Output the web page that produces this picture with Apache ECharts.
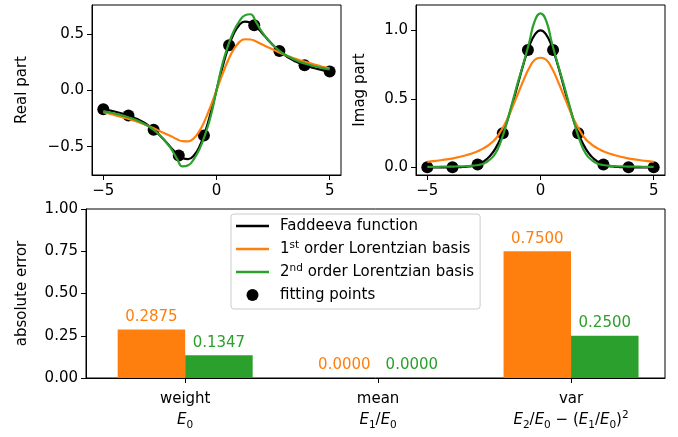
<!DOCTYPE html>
<html>
<head>
<meta charset="utf-8">
<script src="https://cdn.jsdelivr.net/npm/echarts@6/dist/echarts.min.js"></script>
<style>
  html, body { margin: 0; padding: 0; background: #ffffff; }
  #chart { width: 678px; height: 437px; }
</style>
</head>
<body>
<div id="chart"></div>
<script>
// ---- sample positions along the real axis (curves), step 0.25 ----
const xGrid = [-5, -4.75, -4.5, -4.25, -4, -3.75, -3.5, -3.25, -3, -2.75, -2.5, -2.25, -2, -1.75, -1.5, -1.25, -1, -0.75, -0.5, -0.25, 0,
               0.25, 0.5, 0.75, 1, 1.25, 1.5, 1.75, 2, 2.25, 2.5, 2.75, 3, 3.25, 3.5, 3.75, 4, 4.25, 4.5, 4.75, 5];

// Faddeeva function (exact)
const exactRe = [-0.167, -0.177, -0.188, -0.201, -0.216, -0.234, -0.255, -0.281, -0.314, -0.353, -0.400, -0.454, -0.511, -0.563, -0.600, -0.610, -0.578, -0.498, -0.367, -0.195, 0.000,
                 0.195, 0.367, 0.498, 0.578, 0.610, 0.600, 0.563, 0.511, 0.454, 0.400, 0.353, 0.314, 0.281, 0.255, 0.234, 0.216, 0.201, 0.188, 0.177, 0.167];
const exactIm = [0.000, 0.000, 0.000, 0.000, 0.000, 0.001, 0.002, 0.005, 0.011, 0.023, 0.044, 0.080, 0.135, 0.216, 0.325, 0.458, 0.607, 0.755, 0.882, 0.969, 1.000,
                 0.969, 0.882, 0.755, 0.607, 0.458, 0.325, 0.216, 0.135, 0.080, 0.044, 0.023, 0.011, 0.005, 0.002, 0.001, 0.000, 0.000, 0.000, 0.000, 0.000];

// 1st order Lorentzian basis fit
const lor1Re = [-0.193, -0.206, -0.220, -0.234, -0.248, -0.263, -0.279, -0.297, -0.316, -0.338, -0.362, -0.385, -0.408, -0.433, -0.451, -0.453, -0.425, -0.360, -0.260, -0.135, 0.000,
                0.135, 0.260, 0.360, 0.425, 0.453, 0.451, 0.433, 0.408, 0.385, 0.362, 0.338, 0.316, 0.297, 0.279, 0.263, 0.248, 0.234, 0.220, 0.206, 0.193];
const lor1Im = [0.040, 0.045, 0.050, 0.056, 0.062, 0.070, 0.079, 0.090, 0.103, 0.119, 0.140, 0.168, 0.205, 0.265, 0.340, 0.435, 0.535, 0.635, 0.725, 0.785, 0.800,
                0.785, 0.725, 0.635, 0.535, 0.435, 0.340, 0.265, 0.205, 0.168, 0.140, 0.119, 0.103, 0.090, 0.079, 0.070, 0.062, 0.056, 0.050, 0.045, 0.040];

// 2nd order Lorentzian basis fit
const lor2Re = [-0.185, -0.195, -0.205, -0.218, -0.232, -0.248, -0.268, -0.292, -0.320, -0.355, -0.400, -0.455, -0.520, -0.605, -0.675, -0.665, -0.610, -0.520, -0.390, -0.225, 0.000,
                0.225, 0.390, 0.520, 0.610, 0.665, 0.675, 0.605, 0.520, 0.455, 0.400, 0.355, 0.320, 0.292, 0.268, 0.248, 0.232, 0.218, 0.205, 0.195, 0.185];
const lor2Im = [0.003, 0.004, 0.004, 0.005, 0.005, 0.006, 0.007, 0.009, 0.012, 0.017, 0.028, 0.055, 0.100, 0.190, 0.320, 0.470, 0.620, 0.760, 0.910, 1.070, 1.124,
                1.070, 0.910, 0.760, 0.620, 0.470, 0.320, 0.190, 0.100, 0.055, 0.028, 0.017, 0.012, 0.009, 0.007, 0.006, 0.005, 0.005, 0.004, 0.004, 0.003];

// fitting points
const fitX  = [-5, -3.889, -2.778, -1.667, -0.556, 0.556, 1.667, 2.778, 3.889, 5];
const fitRe = [-0.167, -0.223, -0.349, -0.578, -0.400, 0.400, 0.578, 0.349, 0.223, 0.167];
const fitIm = [0.000, 0.001, 0.021, 0.249, 0.857, 0.857, 0.249, 0.021, 0.001, 0.000];

// moment errors
const momentNames = ['weight', 'mean', 'var'];
const momentFormulas = [
  '{it|E}{sub|0}',
  '{it|E}{sub|1}{n|/}{it|E}{sub|0}',
  '{it|E}{sub|2}{n|/}{it|E}{sub|0}{n| \u2212 (}{it|E}{sub|1}{n|/}{it|E}{sub|0}{n|)}{sup|2}'
];
const err1st = [0.2875, 0.0000, 0.7500];
const err2nd = [0.1347, 0.0000, 0.2500];

// tick positions
const curveXTicks = [-5, 0, 5];
const reTicks = [-0.5, 0, 0.5];
const imTicks = [0, 0.5, 1.0];

const FONT = 'DejaVu Sans';
const BLACK = '#000000', ORANGE = '#ff7f0e', GREEN = '#2ca02c';
const NAME_EXACT = 'Faddeeva function';
const NAME_L1 = '1st order Lorentzian basis';
const NAME_L2 = '2nd order Lorentzian basis';
const NAME_FIT = 'fitting points';

const pairs = (xs, ys) => xs.map((x, i) => [x, ys[i]]);
const signed = d => v => (v < 0 ? '\u2212' : '') + Math.abs(v).toFixed(d);

const labelBase = { fontSize: 15, fontFamily: FONT, color: '#000' };
const tickStyle = { length: 5, inside: false, lineStyle: { color: '#000', width: 1 } };
const frameLine = { show: true, onZero: false, lineStyle: { color: '#000', width: 1 } };

function curveX(gi) {
  return {
    gridIndex: gi, type: 'value', min: -5.5, max: 5.5,
    axisLine: frameLine, splitLine: { show: false },
    axisTick: Object.assign({ show: true, customValues: curveXTicks }, tickStyle),
    axisLabel: Object.assign({ customValues: curveXTicks, formatter: signed(0), margin: 9 }, labelBase)
  };
}
function curveY(gi, min, max, ticks, name, gap) {
  return {
    gridIndex: gi, type: 'value', min: min, max: max,
    name: name, nameLocation: 'middle', nameGap: gap,
    nameTextStyle: { fontSize: 15, fontFamily: FONT, color: '#000' },
    axisLine: frameLine, splitLine: { show: false },
    axisTick: Object.assign({ show: true, customValues: ticks }, tickStyle),
    axisLabel: Object.assign({ customValues: ticks, formatter: signed(1), margin: 8 }, labelBase)
  };
}
function lineSeries(name, xi, xs, ys, color, z) {
  return {
    type: 'line', name: name, xAxisIndex: xi, yAxisIndex: xi,
    data: pairs(xs, ys), showSymbol: false, symbol: 'none',
    smooth: 0.5, z: z,
    lineStyle: { color: color, width: 2.2 }, itemStyle: { color: color }
  };
}
function fitSeries(xi, ys) {
  return {
    type: 'scatter', name: NAME_FIT, xAxisIndex: xi, yAxisIndex: xi,
    data: pairs(fitX, ys), symbolSize: 12, z: 3,
    itemStyle: { color: BLACK, opacity: 1 }
  };
}
function barSeries(name, values, color) {
  return {
    type: 'bar', name: name, xAxisIndex: 2, yAxisIndex: 2,
    data: values.map((v, i) => [i, v]),
    barWidth: 67.5, barGap: '0%',
    itemStyle: { color: color },
    label: {
      show: true, position: 'top', distance: 5,
      color: color, fontSize: 15, fontFamily: FONT,
      formatter: p => p.value[1].toFixed(4)
    }
  };
}

const mathRich = {
  n:   { fontSize: 15, fontFamily: FONT, color: '#000', lineHeight: 21 },
  it:  { fontSize: 15, fontFamily: FONT, fontStyle: 'italic', color: '#000', lineHeight: 21 },
  sub: { fontSize: 10.5, fontFamily: FONT, color: '#000', lineHeight: 11, verticalAlign: 'bottom' },
  sup: { fontSize: 10.5, fontFamily: FONT, color: '#000', lineHeight: 10, verticalAlign: 'top' }
};

const chart = echarts.init(document.getElementById('chart'), null, { renderer: 'canvas' });
chart.setOption({
  animation: false,
  backgroundColor: '#ffffff',
  textStyle: { fontFamily: FONT },
  grid: [
    { left: 92, top: 5, width: 249, height: 170, show: true, borderColor: '#000', borderWidth: 1, backgroundColor: '#fff' },
    { left: 416, top: 5, width: 249, height: 170, show: true, borderColor: '#000', borderWidth: 1, backgroundColor: '#fff' },
    { left: 86, top: 209, width: 579, height: 169, show: true, borderColor: '#000', borderWidth: 1, backgroundColor: '#fff' }
  ],
  xAxis: [
    curveX(0),
    curveX(1),
    {
      gridIndex: 2, type: 'value', min: -0.514, max: 2.487,
      axisLine: frameLine, splitLine: { show: false },
      axisTick: Object.assign({ show: true, customValues: [0, 1, 2] }, tickStyle),
      axisLabel: {
        customValues: [0, 1, 2], margin: 11, lineHeight: 21,
        formatter: v => '{n|' + momentNames[Math.round(v)] + '}\n' + momentFormulas[Math.round(v)],
        rich: mathRich
      }
    }
  ],
  yAxis: [
    curveY(0, -0.751, 0.757, reTicks, 'Real part', 62),
    curveY(1, -0.056, 1.185, imTicks, 'Imag part', 48),
    {
      gridIndex: 2, type: 'value', min: 0, max: 1, interval: 0.25,
      name: 'absolute error', nameLocation: 'middle', nameGap: 56,
      nameTextStyle: { fontSize: 15, fontFamily: FONT, color: '#000' },
      axisLine: frameLine, splitLine: { show: false },
      axisTick: Object.assign({ show: true }, tickStyle),
      axisLabel: Object.assign({ formatter: v => v.toFixed(2), margin: 8 }, labelBase)
    }
  ],
  legend: {
    orient: 'vertical', left: 231, top: 214,
    itemWidth: 33, itemHeight: 12, itemGap: 5,
    padding: [3, 6, 5, 5],
    borderColor: '#cccccc', borderWidth: 1, borderRadius: 3,
    backgroundColor: 'rgba(255,255,255,0.8)',
    data: [
      { name: NAME_EXACT, icon: 'path://M0,0L40,0L40,3L0,3Z', itemStyle: { color: BLACK } },
      { name: NAME_L1, icon: 'path://M0,0L40,0L40,3L0,3Z', itemStyle: { color: ORANGE } },
      { name: NAME_L2, icon: 'path://M0,0L40,0L40,3L0,3Z', itemStyle: { color: GREEN } },
      { name: NAME_FIT, icon: 'circle', itemStyle: { color: BLACK } }
    ],
    formatter: name => name.replace(/^(\d)(st|nd)/, '$1{sup|$2}'),
    textStyle: {
      fontSize: 15, fontFamily: FONT, color: '#000', lineHeight: 18, padding: [0, 0, 0, 6],
      rich: { sup: { fontSize: 10.5, fontFamily: FONT, color: '#000', lineHeight: 9, verticalAlign: 'top' } }
    }
  },
  series: [
    lineSeries(NAME_EXACT, 0, xGrid, exactRe, BLACK, 2),
    fitSeries(0, fitRe),
    lineSeries(NAME_L1, 0, xGrid, lor1Re, ORANGE, 4),
    lineSeries(NAME_L2, 0, xGrid, lor2Re, GREEN, 5),
    lineSeries(NAME_EXACT, 1, xGrid, exactIm, BLACK, 2),
    fitSeries(1, fitIm),
    lineSeries(NAME_L1, 1, xGrid, lor1Im, ORANGE, 4),
    lineSeries(NAME_L2, 1, xGrid, lor2Im, GREEN, 5),
    barSeries('1st order error', err1st, ORANGE),
    barSeries('2nd order error', err2nd, GREEN)
  ]
});
</script>
</body>
</html>
